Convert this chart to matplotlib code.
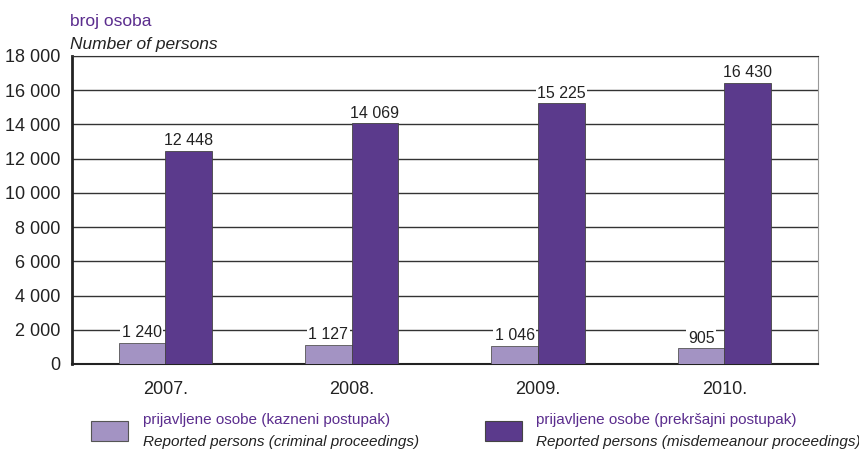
import numpy as np
import matplotlib.pyplot as plt
from matplotlib.patches import Rectangle

# Reported persons by year
years = ['2007.', '2008.', '2009.', '2010.']
criminal = [1240, 1127, 1046, 905]
misdemeanour = [12448, 14069, 15225, 16430]

light = '#A393C3'
dark = '#5B3A8C'
purple_txt = '#5B2D8E'

plt.rcParams['font.family'] = ['Liberation Sans', 'DejaVu Sans']

fig = plt.figure(figsize=(8.59, 4.51), dpi=100)
ax = fig.add_axes([0.0838, 0.193, 0.868, 0.683])

x = np.arange(len(years))
w = 0.25
ax.bar(x - w / 2, criminal, w, color=light, edgecolor='#555555', linewidth=0.6, zorder=3)
ax.bar(x + w / 2, misdemeanour, w, color=dark, edgecolor='#444444', linewidth=0.6, zorder=3)

def fmt(v):
    return f'{v:,}'.replace(',', ' ')

for i in range(len(years)):
    ax.text(x[i] - w / 2, criminal[i] + 150, fmt(criminal[i]), ha='center', va='bottom',
            fontsize=11.5, color='#222222', zorder=4,
            bbox=dict(facecolor='white', edgecolor='none', pad=1))
    ax.text(x[i] + w / 2, misdemeanour[i] + 150, fmt(misdemeanour[i]), ha='center', va='bottom',
            fontsize=11.5, color='#222222', zorder=4,
            bbox=dict(facecolor='white', edgecolor='none', pad=1))

ax.set_xlim(-0.5, 3.5)
ax.set_ylim(0, 18000)
ticks = np.arange(0, 18001, 2000)
ax.set_yticks(ticks)
ax.set_yticklabels([fmt(t) for t in ticks], fontsize=13, color='#222222')
ax.set_xticks(x)
ax.set_xticklabels(years, fontsize=13, color='#222222')
ax.tick_params(axis='both', length=0)
ax.tick_params(axis='x', pad=12)
ax.tick_params(axis='y', pad=8)
ax.grid(axis='y', color='#333333', linewidth=1.0, zorder=0)

ax.spines['left'].set_linewidth(2.0)
ax.spines['left'].set_color('#222222')
ax.spines['bottom'].set_linewidth(1.5)
ax.spines['bottom'].set_color('#222222')
ax.spines['right'].set_color('#999999')
ax.spines['top'].set_color('#333333')

fig.text(0.0815, 0.935, 'broj osoba', fontsize=12.5, color=purple_txt, ha='left', va='bottom')
fig.text(0.0815, 0.885, 'Number of persons', fontsize=12.5, style='italic', color='#222222',
         ha='left', va='bottom')

# legend
fig.patches.append(Rectangle((0.106, 0.022), 0.043, 0.044, transform=fig.transFigure,
                             facecolor=light, edgecolor='#555555', linewidth=0.8))
fig.text(0.167, 0.053, 'prijavljene osobe (kazneni postupak)', fontsize=11, color=purple_txt,
         ha='left', va='bottom')
fig.text(0.167, 0.004, 'Reported persons (criminal proceedings)', fontsize=11, style='italic',
         color='#222222', ha='left', va='bottom')
fig.patches.append(Rectangle((0.565, 0.022), 0.043, 0.044, transform=fig.transFigure,
                             facecolor=dark, edgecolor='#444444', linewidth=0.8))
fig.text(0.624, 0.053, 'prijavljene osobe (prekršajni postupak)', fontsize=11, color=purple_txt,
         ha='left', va='bottom')
fig.text(0.624, 0.004, 'Reported persons (misdemeanour proceedings)', fontsize=11, style='italic',
         color='#222222', ha='left', va='bottom')

fig.savefig('out.png', dpi=100)
